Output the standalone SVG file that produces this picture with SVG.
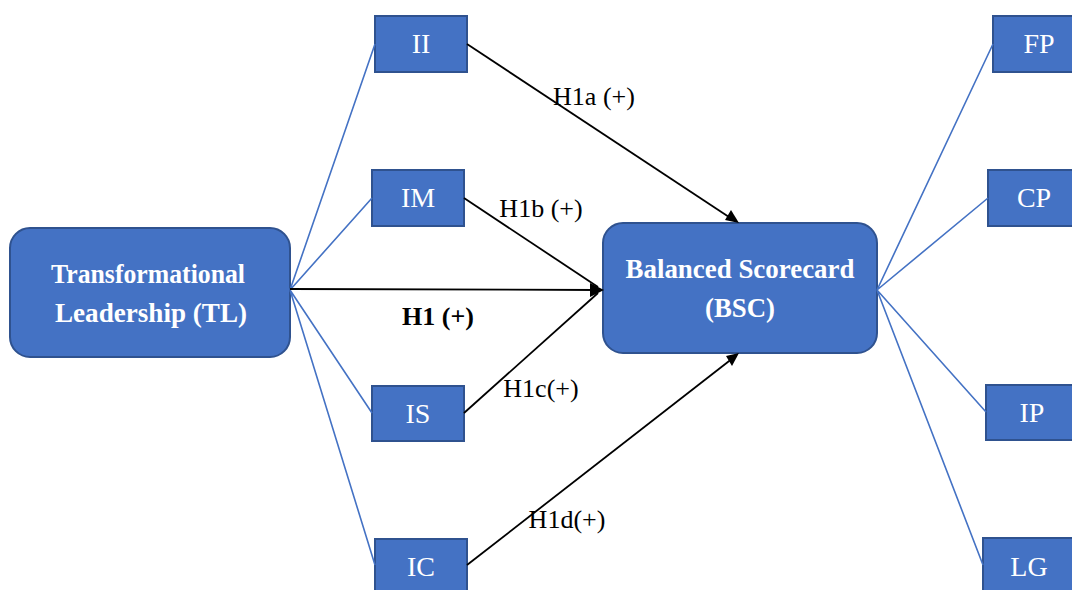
<svg xmlns="http://www.w3.org/2000/svg" width="1072" height="590" viewBox="0 0 1072 590">
<style>
.box{fill:#4472C4;stroke:#2F528F;stroke-width:2}
.lbl{font-family:"Liberation Serif",serif;font-size:28px;fill:#fff;text-anchor:middle}
.big{font-family:"Liberation Serif",serif;font-size:27px;font-weight:bold;fill:#fff;text-anchor:middle}
.blue{stroke:#4472C4;stroke-width:1.6;fill:none}
.blk{stroke:#000;stroke-width:1.8;fill:none}
.hd{fill:#000}
.hl{font-family:"Liberation Serif",serif;font-size:26px;fill:#000;text-anchor:middle}
</style>
<rect width="1072" height="590" fill="#fff"/>
<g id="TL"><rect class="box" x="10" y="228" width="280" height="129" rx="20"/><text class="big" x="148" y="283" textLength="194" lengthAdjust="spacingAndGlyphs">Transformational</text><text class="big" x="151" y="322" textLength="192" lengthAdjust="spacingAndGlyphs">Leadership (TL)</text></g>
<g id="BSC"><rect class="box" x="603" y="223" width="274" height="130" rx="20"/><text class="big" x="740" y="278" textLength="229" lengthAdjust="spacingAndGlyphs">Balanced Scorecard</text><text class="big" x="740" y="317" textLength="70" lengthAdjust="spacingAndGlyphs">(BSC)</text></g>
<g id="II"><rect class="box" x="375" y="16" width="92" height="56"/><text class="lbl" x="421" y="53">II</text></g>
<g id="IM"><rect class="box" x="372" y="170" width="92" height="56"/><text class="lbl" x="418" y="207">IM</text></g>
<g id="IS"><rect class="box" x="372" y="386" width="92" height="55"/><text class="lbl" x="418" y="423">IS</text></g>
<g id="IC"><rect class="box" x="375" y="539" width="92" height="56"/><text class="lbl" x="421" y="576">IC</text></g>
<g id="FP"><rect class="box" x="993" y="16" width="92" height="56"/><text class="lbl" x="1039" y="53">FP</text></g>
<g id="CP"><rect class="box" x="988" y="170" width="92" height="56"/><text class="lbl" x="1034" y="207">CP</text></g>
<g id="IP"><rect class="box" x="986" y="385" width="92" height="55"/><text class="lbl" x="1032" y="422">IP</text></g>
<g id="LG"><rect class="box" x="983" y="538" width="92" height="56"/><text class="lbl" x="1029" y="576">LG</text></g>
<g id="connectors">
<path class="blue" d="M290,290 L375,44 M290,290 L372,198 M290,290 L372,413 M290,290 L375,565"/>
<path class="blue" d="M877,290 L993,44 M877,290 L988,198 M877,290 L986,412 M877,290 L983,565"/>
<path class="blk" d="M467,44 L732,219"/>
<path class="hd" d="M739,223 l-14,-3 l6,-10 z"/>
<path class="blk" d="M464,198 L598,287"/>
<path class="blk" d="M290,289 L598,290"/>
<path class="blk" d="M464,413 L598,293"/>
<path class="hd" d="M604,290 l-14,-7 l0,14 z"/>
<path class="blk" d="M467,565 L733,358"/>
<path class="hd" d="M739,353 l-13,3 l6,10 z"/>
<text class="hl" x="594" y="105">H1a (+)</text>
<text class="hl" x="541" y="217">H1b (+)</text>
<text class="hl" x="438" y="325" font-weight="bold">H1 (+)</text>
<text class="hl" x="541" y="397">H1c(+)</text>
<text class="hl" x="567" y="528">H1d(+)</text>
</g>
</svg>
